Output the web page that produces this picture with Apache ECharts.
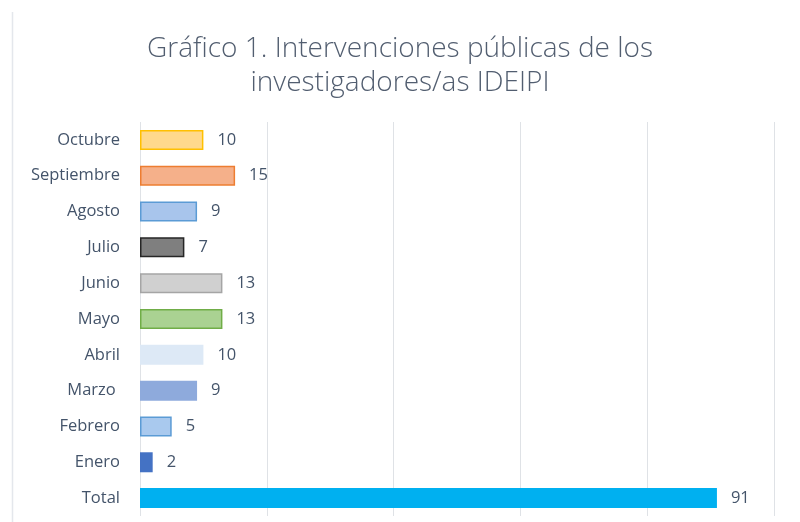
<!DOCTYPE html>
<html>
<head>
<meta charset="utf-8">
<script src="https://cdn.jsdelivr.net/npm/echarts@6/dist/echarts.min.js"></script>
<style>
  html, body { margin: 0; padding: 0; background: #fff; }
  #main { width: 800px; height: 522px; }
</style>
</head>
<body>
<div id="main"></div>
<script>
// datos del gráfico (de arriba hacia abajo)
var meses = ['Octubre', 'Septiembre', 'Agosto', 'Julio', 'Junio', 'Mayo', 'Abril', 'Marzo ', 'Febrero', 'Enero', 'Total'];
var valores = [10, 15, 9, 7, 13, 13, 10, 9, 5, 2, 91];
var xTicks = [0, 20, 40, 60, 80, 100];

// colores de cada barra
var rellenos = ['#ffd98c', '#f5b08a', '#a8c5ec', '#7f7f7f', '#d0d0d0', '#aad292', '#dde9f6', '#8eaadc', '#a9c9ee', '#4472c4', '#00b0f0'];
var bordes = ['#ffc000', '#ed7d31', '#5b9bd5', '#262626', '#a5a5a5', '#70ad47', null, null, '#5b9bd5', null, null];

var chart = echarts.init(document.getElementById('main'));

var barData = valores.map(function (v, i) {
  return {
    value: v,
    itemStyle: {
      color: rellenos[i],
      borderColor: bordes[i] || rellenos[i],
      borderWidth: bordes[i] ? 1.5 : 0
    }
  };
});

var option = {
  backgroundColor: '#fff',
  animation: false,
  title: {
    text: 'Gráfico 1. Intervenciones públicas de los\ninvestigadores/as IDEIPI',
    left: 'center',
    top: 27,
    textStyle: {
      fontFamily: 'Open Sans',
      fontWeight: 300,
      fontSize: 28,
      lineHeight: 34,
      color: '#525e70'
    }
  },
  graphic: [{
    type: 'line',
    shape: { x1: 12.5, y1: 12, x2: 12.5, y2: 522 },
    style: { stroke: '#e4e7ec', lineWidth: 1.5 }
  }],
  grid: {
    left: 140,
    right: 26,
    top: 122,
    bottom: 6
  },
  xAxis: {
    type: 'value',
    min: xTicks[0],
    max: xTicks[xTicks.length - 1],
    interval: xTicks[1] - xTicks[0],
    axisLabel: { show: false },
    axisLine: { show: false },
    axisTick: { show: false },
    splitLine: { lineStyle: { color: '#dfe2e6', width: 1 } }
  },
  yAxis: {
    type: 'category',
    inverse: true,
    data: meses,
    axisLine: { show: false },
    axisTick: { show: false },
    axisLabel: {
      margin: 20,
      fontFamily: 'Open Sans',
      fontSize: 16.5,
      color: '#44546a'
    }
  },
  series: [{
    type: 'bar',
    data: barData,
    barWidth: 20,
    label: {
      show: true,
      position: 'right',
      distance: 14,
      fontFamily: 'Open Sans',
      fontSize: 16.5,
      color: '#44546a'
    }
  }]
};

chart.setOption(option);
</script>
</body>
</html>
